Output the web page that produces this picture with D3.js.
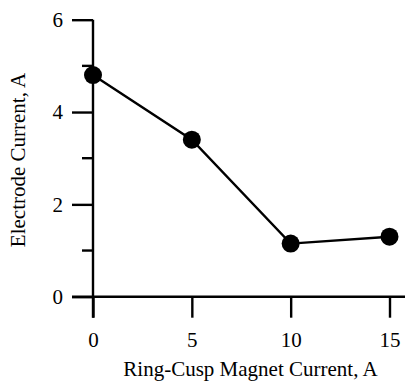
<!DOCTYPE html>
<html>
<head>
<meta charset="utf-8">
<script src="https://cdn.jsdelivr.net/npm/d3@7"></script>
<style>
  html, body { margin: 0; padding: 0; background: #fff; }
  svg { display: block; }
  text { font-family: "Liberation Serif", "Times New Roman", serif; fill: #000; }
</style>
</head>
<body>
<svg id="chart" width="405" height="381"></svg>
<script>
// Electrode current versus ring-cusp magnet current
const magnetCurrent = [0, 5, 10, 15];
const electrodeCurrent = [4.8, 3.4, 1.15, 1.3];
const xTicks = [0, 5, 10, 15];
const yMajorTicks = [0, 2, 4, 6];
const yMinorTicks = [1, 3, 5];

const svg = d3.select("#chart");
const x = d3.scaleLinear().domain([0, 15]).range([93, 389.5]);
const y = d3.scaleLinear().domain([0, 6]).range([296.7, 19.7]);

const axisWidth = 2.4;
const fontSize = "21px";

// x axis: line runs past the last tick to the right edge
const xAxis = svg.append("g").attr("transform", `translate(0,${y(0)})`);
xAxis.call(d3.axisBottom(x).tickValues(xTicks).tickSize(21).tickPadding(14).tickFormat(d3.format("d")));
xAxis.attr("font-family", null);
xAxis.select(".domain").remove();
xAxis.append("line").attr("x1", 72).attr("x2", 405).attr("y1", 0).attr("y2", 0)
  .attr("stroke", "#000").attr("stroke-width", axisWidth);
xAxis.selectAll(".tick line").attr("stroke-width", axisWidth);
xAxis.selectAll(".tick text").style("font-size", fontSize).style("font-family", "Liberation Serif");

// y axis with major and minor ticks
const yAxis = svg.append("g").attr("transform", `translate(${x(0)},0)`);
yAxis.call(d3.axisLeft(y).tickValues(yMajorTicks).tickSize(21).tickPadding(9).tickFormat(d3.format("d")));
yAxis.attr("font-family", null);
yAxis.select(".domain").remove();
yAxis.append("line").attr("x1", 0).attr("x2", 0).attr("y1", y(6)).attr("y2", y(0) + 21)
  .attr("stroke", "#000").attr("stroke-width", axisWidth);
yAxis.selectAll(".tick line").attr("stroke-width", axisWidth);
yAxis.selectAll(".tick text").style("font-size", fontSize).style("font-family", "Liberation Serif");
yAxis.selectAll(".minor").data(yMinorTicks).enter().append("line")
  .attr("class", "minor")
  .attr("x1", -11).attr("x2", 0)
  .attr("y1", d => y(d)).attr("y2", d => y(d))
  .attr("stroke", "#000").attr("stroke-width", axisWidth);

// axis titles
svg.append("text")
  .attr("x", 250.5).attr("y", 376)
  .attr("text-anchor", "middle")
  .style("font-size", fontSize)
  .text("Ring-Cusp Magnet Current, A");

svg.append("text")
  .attr("transform", "translate(25,160) rotate(-90)")
  .attr("text-anchor", "middle")
  .style("font-size", fontSize)
  .text("Electrode Current, A");

// data line and markers
const points = magnetCurrent.map((m, i) => [m, electrodeCurrent[i]]);
svg.append("path")
  .datum(points)
  .attr("fill", "none")
  .attr("stroke", "#000")
  .attr("stroke-width", 2.4)
  .attr("d", d3.line().x(d => x(d[0])).y(d => y(d[1])));

svg.selectAll(".pt").data(points).enter().append("circle")
  .attr("class", "pt")
  .attr("cx", d => x(d[0]))
  .attr("cy", d => y(d[1]))
  .attr("r", 9)
  .attr("fill", "#000");
</script>
</body>
</html>
